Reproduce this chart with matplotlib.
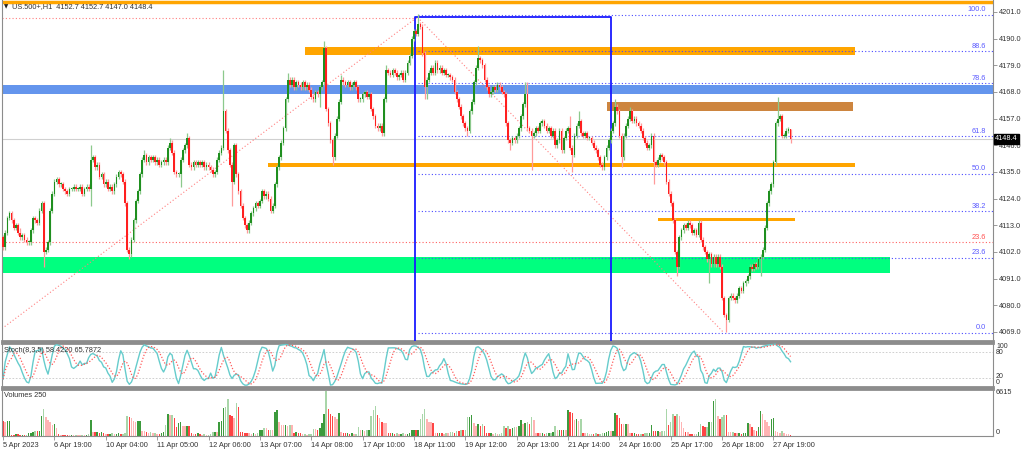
import matplotlib
matplotlib.use("Agg")
import matplotlib.pyplot as plt
from matplotlib.patches import Rectangle
import numpy as np

plt.rcParams['font.family'] = ['Liberation Sans', 'DejaVu Sans']

# ---------------- data ----------------
symbol = "US.500+,H1"
last_ohlc = [4152.7, 4152.7, 4147.0, 4148.4]
first_open = 4108

# hourly closes, 5 Apr 2023 -> 28 Apr 2023
closes = [
    4104, 4110, 4116, 4118, 4115, 4112, 4113, 4110, 4108, 4109,
    4107, 4106, 4106, 4111, 4116, 4115, 4114, 4119, 4122, 4102,
    4103, 4106, 4119, 4126, 4131, 4132, 4130, 4130, 4128, 4127,
    4126, 4128, 4128, 4129, 4128, 4128, 4129, 4126, 4128, 4129,
    4128, 4140, 4141, 4137, 4138, 4133, 4134, 4130, 4131, 4128,
    4129, 4127, 4130, 4133, 4135, 4134, 4131, 4122, 4103, 4101,
    4107, 4115, 4123, 4127, 4134, 4140, 4142, 4139, 4141, 4140,
    4141, 4139, 4140, 4138, 4139, 4140, 4139, 4145, 4147, 4143,
    4135, 4134, 4134, 4140, 4144, 4146, 4149, 4138, 4137, 4139,
    4138, 4139, 4138, 4139, 4137, 4138, 4137, 4136, 4134, 4135,
    4140, 4143, 4145, 4160, 4152, 4144, 4138, 4131, 4146, 4134,
    4127, 4121, 4116, 4113, 4111, 4114, 4118, 4120, 4122, 4121,
    4123, 4127, 4125, 4126, 4124, 4119, 4121, 4130, 4137, 4141,
    4147, 4153, 4165, 4173, 4171, 4173, 4170, 4172, 4171, 4170,
    4172, 4170, 4171, 4169, 4166, 4165, 4168, 4167, 4170, 4172,
    4186, 4161, 4155, 4148, 4141, 4150, 4157, 4164, 4173, 4172,
    4171, 4172, 4170, 4171, 4172, 4170, 4165, 4165, 4167, 4168,
    4166, 4167, 4161, 4158, 4154, 4153, 4154, 4151, 4165, 4177,
    4176, 4175, 4177, 4176, 4174, 4175, 4176, 4173, 4176, 4180,
    4183, 4190, 4193, 4192, 4196, 4195, 4184, 4170, 4173, 4176,
    4178, 4176, 4180, 4177, 4178, 4176, 4177, 4175, 4175, 4174,
    4173, 4168, 4165, 4162, 4158, 4155, 4153, 4152, 4160, 4164,
    4172, 4178, 4182, 4181, 4179, 4173, 4170, 4167, 4168, 4170,
    4169, 4171, 4170, 4168, 4167, 4155, 4148, 4147, 4149, 4148,
    4150, 4153, 4158, 4163, 4167, 4153, 4152, 4150, 4151, 4153,
    4152, 4155, 4156, 4154, 4152, 4153, 4150, 4152, 4146, 4148,
    4152, 4144, 4149, 4152, 4153, 4145, 4142, 4150, 4154, 4156,
    4151, 4150, 4151, 4149, 4149, 4147, 4145, 4144, 4141, 4138,
    4137, 4141, 4145, 4148, 4152, 4155, 4162, 4160, 4150, 4141,
    4150, 4154, 4157, 4160, 4156, 4157, 4155, 4154, 4152, 4149,
    4147, 4145, 4146, 4150, 4139, 4138, 4140, 4142, 4141, 4139,
    4131, 4126, 4122, 4115, 4102, 4096, 4108, 4111, 4113, 4112,
    4114, 4113, 4110, 4111, 4109, 4114, 4107, 4104, 4102, 4099,
    4101, 4097, 4100, 4097, 4100, 4096, 4083, 4076, 4074, 4083,
    4084, 4083, 4082, 4084, 4087, 4086, 4089, 4090, 4092, 4096,
    4095, 4097, 4096, 4099, 4100, 4103, 4112, 4122, 4127, 4130,
    4139, 4155, 4157, 4158, 4150, 4150, 4152, 4152.7, 4148.4,
]

# wick length above / below the candle body (points)
wick_up = [
    1, 1, 1, 1, 1, 1, 1, 1, 2, 1,
    1, 1, 1, 1, 1, 1, 1, 1, 1, 1,
    1, 1, 1, 1, 1, 1, 1, 1, 1, 1,
    1, 1, 1, 1, 1, 1, 1, 1, 1, 1,
    1, 6, 1, 1, 1, 1, 1, 1, 1, 1,
    1, 1, 1, 1, 1, 1, 1, 1, 1, 1,
    1, 1, 1, 1, 1, 1, 2, 1, 1, 1,
    1, 1, 1, 1, 1, 1, 1, 1, 2, 1,
    1, 1, 1, 1, 1, 1, 2, 1, 1, 1,
    1, 1, 1, 1, 1, 1, 1, 1, 1, 1,
    1, 1, 1, 17, 1, 1, 1, 1, 1, 1,
    1, 1, 1, 1, 1, 1, 1, 1, 1, 1,
    1, 1, 1, 1, 1, 1, 1, 1, 1, 1,
    1, 1, 1, 3, 1, 1, 1, 1, 1, 1,
    1, 1, 1, 1, 1, 1, 1, 1, 1, 1,
    3, 1, 1, 1, 1, 1, 1, 1, 2, 1,
    1, 1, 1, 1, 1, 1, 1, 1, 1, 1,
    1, 1, 1, 1, 1, 1, 1, 1, 1, 2,
    1, 1, 1, 1, 1, 1, 1, 1, 1, 1,
    1, 1, 1, 1, 4, 1, 1, 1, 1, 1,
    1, 1, 1, 1, 1, 1, 1, 1, 1, 1,
    1, 1, 1, 1, 1, 1, 1, 1, 1, 1,
    1, 1, 5, 1, 1, 1, 1, 1, 1, 1,
    1, 1, 1, 1, 1, 1, 1, 1, 1, 1,
    1, 1, 1, 1, 5, 5, 1, 1, 1, 1,
    1, 1, 1, 1, 1, 1, 1, 1, 1, 1,
    1, 1, 1, 1, 1, 5, 1, 1, 1, 4,
    1, 1, 1, 1, 1, 1, 1, 1, 1, 1,
    1, 1, 1, 1, 1, 1, 3, 1, 1, 1,
    1, 1, 1, 2, 1, 1, 1, 1, 1, 1,
    1, 1, 1, 1, 1, 1, 1, 1, 1, 1,
    1, 1, 1, 1, 1, 1, 1, 1, 1, 1,
    1, 1, 1, 1, 1, 1, 1, 1, 1, 1,
    1, 1, 1, 1, 1, 1, 1, 1, 1, 1,
    1, 1, 1, 1, 1, 1, 1, 1, 1, 1,
    1, 1, 1, 1, 1, 1, 1, 1, 1, 1,
    1, 1, 9, 1, 1, 1, 1, 1, 0,
]
wick_dn = [
    1, 1, 1, 1, 1, 1, 1, 1, 1, 1,
    1, 1, 1, 1, 1, 1, 1, 1, 1, 6,
    1, 1, 1, 1, 1, 1, 1, 1, 1, 1,
    1, 1, 1, 1, 1, 1, 1, 1, 1, 1,
    1, 7, 1, 1, 1, 1, 1, 1, 1, 1,
    1, 1, 1, 1, 1, 1, 1, 1, 1, 2,
    1, 1, 1, 1, 1, 1, 1, 1, 1, 1,
    1, 1, 1, 1, 1, 1, 1, 1, 1, 1,
    1, 1, 1, 5, 1, 1, 1, 1, 1, 1,
    1, 1, 1, 1, 1, 1, 1, 1, 1, 1,
    1, 1, 1, 1, 1, 1, 1, 10, 1, 1,
    1, 1, 1, 1, 1, 1, 1, 1, 1, 1,
    1, 1, 1, 1, 1, 1, 1, 1, 1, 1,
    1, 1, 1, 1, 1, 1, 1, 1, 1, 1,
    1, 1, 1, 1, 1, 1, 1, 1, 5, 1,
    1, 1, 1, 1, 3, 1, 1, 1, 1, 1,
    1, 1, 1, 1, 1, 1, 1, 1, 1, 1,
    1, 1, 1, 1, 1, 1, 1, 1, 1, 1,
    1, 1, 1, 1, 1, 1, 1, 1, 1, 1,
    1, 1, 1, 1, 1, 1, 1, 5, 5, 1,
    1, 1, 1, 1, 1, 1, 1, 1, 1, 1,
    1, 1, 1, 1, 1, 1, 1, 2, 1, 1,
    1, 1, 1, 1, 1, 1, 1, 1, 1, 1,
    1, 1, 1, 1, 1, 1, 1, 3, 1, 1,
    1, 1, 1, 1, 1, 1, 1, 14, 1, 1,
    1, 1, 1, 1, 1, 1, 1, 1, 1, 1,
    1, 1, 1, 1, 1, 1, 7, 1, 1, 1,
    1, 1, 1, 1, 1, 1, 1, 1, 1, 1,
    1, 1, 1, 1, 1, 1, 1, 1, 1, 4,
    1, 1, 1, 1, 1, 1, 1, 1, 1, 1,
    1, 1, 1, 1, 9, 1, 1, 1, 1, 1,
    1, 1, 1, 1, 1, 4, 1, 1, 1, 1,
    1, 1, 1, 1, 1, 1, 1, 1, 1, 1,
    10, 1, 1, 1, 1, 1, 1, 1, 5, 1,
    1, 1, 1, 1, 1, 1, 1, 1, 1, 1,
    1, 1, 1, 1, 7, 1, 1, 1, 1, 1,
    1, 1, 1, 1, 1, 1, 1, 1, 1.4,
]

volumes = [
    2160, 2000, 2100, 2200, 200, 150, 300, 250, 150, 200,
    150, 200, 450, 500, 600, 700, 650, 750, 2900, 3900,
    2700, 2300, 2000, 1600, 1700, 1200, 300, 150, 150, 150,
    150, 120, 150, 100, 150, 120, 100, 150, 120, 150,
    300, 2300, 600, 550, 600, 500, 600, 400, 350, 300,
    350, 400, 300, 350, 400, 300, 350, 450, 2900, 2800,
    2600, 2200, 2000, 2100, 2150, 700, 650, 600, 500, 550,
    400, 500, 350, 300, 450, 550, 1600, 3200, 3000, 3050,
    2600, 1300, 1900, 2000, 1500, 1400, 1450, 1400, 400, 350,
    300, 400, 250, 200, 250, 150, 200, 300, 550, 600,
    600, 2000, 2100, 4000, 4200, 5300, 3000, 2900, 2600, 4750,
    4150, 600, 550, 500, 450, 400, 350, 400, 300, 450,
    850, 900, 1150, 1100, 850, 900, 800, 3450, 3750, 2000,
    1600, 1550, 1600, 1500, 1600, 1550, 500, 550, 450, 400,
    250, 300, 200, 250, 300, 1000, 950, 900, 1100, 1850,
    3150, 6480, 3900, 3200, 2900, 2800, 2450, 3300, 550, 450,
    400, 500, 350, 400, 300, 350, 1300, 800, 850, 750,
    850, 900, 2900, 3700, 4300, 3000, 2600, 2000, 1900, 1850,
    450, 400, 450, 350, 400, 300, 350, 400, 300, 350,
    450, 850, 900, 850, 900, 2450, 3200, 3900, 2450, 2000,
    2000, 1900, 450, 400, 450, 400, 350, 450, 400, 550,
    600, 500, 700, 650, 850, 800, 900, 2700, 2750, 3000,
    1850, 1450, 1700, 1450, 1750, 1400, 450, 400, 500, 350,
    400, 300, 350, 500, 1450, 1150, 1400, 1000, 1200, 1300,
    1300, 1500, 2300, 1700, 1800, 2000, 1750, 2750, 2300, 450,
    450, 400, 450, 350, 400, 450, 500, 550, 1450, 850,
    900, 850, 900, 800, 3750, 3500, 3300, 2300, 2450, 2150,
    2450, 500, 400, 450, 300, 350, 300, 400, 300, 350,
    400, 500, 600, 700, 650, 750, 3300, 3000, 2600, 1750,
    1700, 1750, 1700, 450, 400, 450, 350, 300, 350, 300,
    400, 450, 500, 1600, 700, 650, 700, 600, 650, 700,
    3900, 1600, 2000, 3150, 2900, 3200, 2850, 2000, 1150, 600,
    550, 300, 300, 250, 300, 600, 1750, 1450, 1300, 1350,
    2000, 2050, 5000, 5300, 2900, 2450, 2750, 3000, 3000, 600,
    550, 600, 450, 400, 450, 350, 400, 450, 1850, 1700,
    1300, 850, 700, 1300, 3600, 3150, 2300, 2000, 1450, 2450,
    2600, 700, 600, 450, 700, 450, 300, 250, 150,
]

date_labels = ["5 Apr 2023", "6 Apr 19:00", "10 Apr 04:00", "11 Apr 05:00",
               "12 Apr 06:00", "13 Apr 07:00", "14 Apr 08:00", "17 Apr 10:00",
               "18 Apr 11:00", "19 Apr 12:00", "20 Apr 13:00", "21 Apr 14:00",
               "24 Apr 16:00", "25 Apr 17:00", "26 Apr 18:00", "27 Apr 19:00"]
price_ticks = [4201.0, 4190.0, 4179.0, 4168.0, 4157.0, 4146.0, 4135.0,
               4124.0, 4113.0, 4102.0, 4091.0, 4080.0, 4069.0]

# support / resistance zones: (top, bottom, start bar, end bar)
zone_orange_hi = (4186.6, 4183.3, 141, 398)
zone_blue = (4170.9, 4167.1, -1, 464)
zone_brown = (4164.0, 4160.3, 282, 397)
zone_orange_mid = (4138.7, 4137.0, 124, 398)
zone_orange_lo = (4116.2, 4114.7, 306, 370)
zone_green = (4099.8, 4093.4, -1, 414.5)
top_line_price = 4205.1

# fibonacci (blue): swing high / low
fib_high, fib_low = 4199.8, 4068.6
fib_high_bar, fib_low_bar = 194.8, 336.9
fib_levels = [0.0, 23.6, 38.2, 50.0, 61.8, 78.6, 88.6, 100.0]
# older fibonacci (red)
red_fib_high, red_fib_23 = 4198.5, 4106.0
red_diag = [(-0.5, 4070.4), (193.0, 4198.5)]
box_bars = (192.5, 284.3)
box_top = 4198.9

# ---------------- derived ----------------
n = len(closes)
x = np.arange(n)
c = np.array(closes, dtype=float)
o = np.concatenate([[first_open], c[:-1]])
hi = np.maximum(o, c) + np.array(wick_up, dtype=float)
lo = np.minimum(o, c) - np.array(wick_dn, dtype=float)
up = c >= o

# stochastic (8,3,5)
kper, slow, dper = 8, 3, 5
hh = np.array([hi[max(0, i - kper + 1):i + 1].max() for i in range(n)])
ll = np.array([lo[max(0, i - kper + 1):i + 1].min() for i in range(n)])
num = c - ll
den = hh - ll
k = np.array([100 * num[max(0, i - slow + 1):i + 1].sum() /
              max(den[max(0, i - slow + 1):i + 1].sum(), 1e-9) for i in range(n)])
d = np.array([k[max(0, i - dper + 1):i + 1].mean() for i in range(n)])

# ---------------- figure ----------------
W, H = 1024, 449
fig = plt.figure(figsize=(W / 100, H / 100), dpi=100)
fig.patch.set_facecolor('white')


def box(x0, y0, x1, y1):
    return [x0 / W, 1 - y1 / H, (x1 - x0) / W, (y1 - y0) / H]


xmin, xmax = -0.5, 462.6
ax = fig.add_axes(box(2, 0, 993, 341))
ax_st = fig.add_axes(box(2, 343, 993, 387))
ax_v = fig.add_axes(box(2, 389, 993, 436))

for a in (ax, ax_st, ax_v):
    a.set_xlim(xmin, xmax)
    a.set_facecolor('white')
    for s in a.spines.values():
        s.set_color('#8c8c8c')
        s.set_linewidth(0.8)
    a.tick_params(axis='x', bottom=False, labelbottom=False)
    a.yaxis.tick_right()
    a.tick_params(axis='y', length=3, width=0.6, colors='#8c8c8c',
                  labelcolor='#333333', labelsize=5.3, pad=1)

ax.set_ylim(4065.27, 4205.95)
ax.spines['top'].set_visible(False)
ax.spines['bottom'].set_linewidth(2)
ax_st.spines['top'].set_linewidth(2)
ax_st.spines['bottom'].set_linewidth(2)
ax_v.spines['top'].set_linewidth(2)

# zones
for (ztop, zbot, zs, ze), col in [(zone_orange_hi, '#FFA500'), (zone_blue, '#6495ED'),
                                  (zone_brown, '#CD853F'), (zone_orange_mid, '#FFA500'),
                                  (zone_orange_lo, '#FFA500'), (zone_green, '#00FF7F')]:
    ax.add_patch(Rectangle((zs, zbot), ze - zs, ztop - zbot, facecolor=col,
                           edgecolor='none', zorder=1))
ax.axhline(top_line_price, color='#FFA500', lw=2.5, zorder=2)

# current price line
ax.axhline(last_ohlc[3], color='#d0d0d0', lw=0.8, zorder=1.5)

# red fib
ax.plot([xmin, red_diag[1][0]], [red_fib_high, red_fib_high], color='#ff8080',
        lw=0.8, ls=(0, (1, 2)), zorder=2)
ax.axhline(red_fib_23, color='#ff6060', lw=0.8, ls=(0, (1, 2)), zorder=2)
ax.plot([p[0] for p in red_diag], [p[1] for p in red_diag], color='#ff8080',
        lw=0.8, ls=(0, (1, 2)), zorder=2)
ax.text(459.5, red_fib_23 + 0.6, "23.6", color='#ff5050', fontsize=5.3,
        ha='right', va='bottom', zorder=5)

# blue fib
for lev in fib_levels:
    p = fib_low + lev / 100 * (fib_high - fib_low)
    ax.plot([fib_high_bar - 1, xmax], [p, p], color='#4a4aff', lw=0.8,
            ls=(0, (1, 2)), zorder=2)
    ax.text(459.5, p + 0.6, f"{lev:.1f}", color='#5a5aff', fontsize=5.3,
            ha='right', va='bottom', zorder=5)
ax.plot([fib_high_bar, fib_low_bar], [fib_high - 2, fib_low], color='#ff8080',
        lw=0.8, ls=(0, (1, 2)), zorder=2)

# blue box
ax.plot([box_bars[0], box_bars[0], box_bars[1], box_bars[1]],
        [4060, box_top, box_top, 4060], color='#1a1aff', lw=1.3, zorder=3,
        clip_on=True)

# candles
wick_col = np.where(up, '#8cc98c', '#ff9a9a')
body_col = np.where(up, '#1f8f1f', '#ff1f1f')
ax.vlines(x, lo, hi, colors=wick_col, lw=0.9, zorder=3)
ax.bar(x, np.maximum(np.abs(c - o), 0.4), bottom=np.minimum(o, c), width=0.78,
       color=body_col, linewidth=0, zorder=4)

ax.set_yticks(price_ticks)
ax.set_yticklabels([f"{t:.1f}" for t in price_ticks])

# price tag and header
fig.text(995 / W, 1 - 139 / H, f"{last_ohlc[3]:.1f}", color='white', fontsize=5.3,
         va='center', ha='left',
         bbox=dict(boxstyle='square,pad=0.15', fc='black', ec='black'))
fig.text(4 / W, 1 - 7 / H, "\u25BC", fontsize=4, color='#222222', va='center',
         family=['DejaVu Sans'])
fig.text(12 / W, 1 - 7 / H,
         f"{symbol}  " + " ".join(f"{v:.1f}" for v in last_ohlc),
         fontsize=5.3, color='#333333', va='center')

# stochastic
ax_st.set_ylim(-1.6, 100.9)
ax_st.set_yticks([])
ax_st.tick_params(axis='y', right=False, labelright=False)
ax_st.axhline(80, color='#c8c8c8', lw=0.6, ls=(0, (2, 2)))
ax_st.axhline(20, color='#c8c8c8', lw=0.6, ls=(0, (2, 2)))
ax_st.plot(x, k, color='#66cccc', lw=1.0, zorder=3)
ax_st.plot(x, d, color='#ff5a5a', lw=0.9, ls=(0, (1, 1.5)), zorder=4)
ax_st.text(0.002, 0.9, "Stoch(8,3,5) 58.4220 65.7872", transform=ax_st.transAxes,
           fontsize=5.3, color='#333333', va='top')
for lbl, py in [("100", 347), ("80", 353), ("20", 376), ("0", 382)]:
    fig.text(996 / W, 1 - py / H, lbl, fontsize=5.0, color='#333333', va='center')

# volumes
vprev = np.concatenate([[volumes[0]], volumes[:-1]])
vup = np.array(volumes) > vprev
vcol = []
for i in range(n):
    if vup[i]:
        vcol.append('#3c9a3c' if up[i] else '#a9d6a9')
    else:
        vcol.append('#ff4444' if not up[i] else '#ffb4b4')
ax_v.bar(x, volumes, width=0.7, color=vcol, linewidth=0)
ax_v.set_ylim(0, 6760)
ax_v.set_yticks([])
ax_v.tick_params(axis='y', right=False, labelright=False)
ax_v.text(0.002, 0.93, "Volumes 250", transform=ax_v.transAxes,
          fontsize=5.3, color='#333333', va='top')
fig.text(996 / W, 1 - 392 / H, "6615", fontsize=5.3, color='#333333', va='center')
fig.text(996 / W, 1 - 432 / H, "0", fontsize=5.3, color='#333333', va='center')

# time axis
tick_bars = [24 * i for i in range(len(date_labels))]
ax_v.set_xticks(tick_bars)
ax_v.set_xticklabels(date_labels)
ax_v.tick_params(axis='x', bottom=True, labelbottom=True, length=3, width=0.6,
                 colors='#8c8c8c', labelcolor='#333333', labelsize=5.3, pad=1.5)
for t in ax_v.get_xticklabels():
    t.set_ha('left')

fig.savefig("out.png", dpi=100, facecolor='white')
